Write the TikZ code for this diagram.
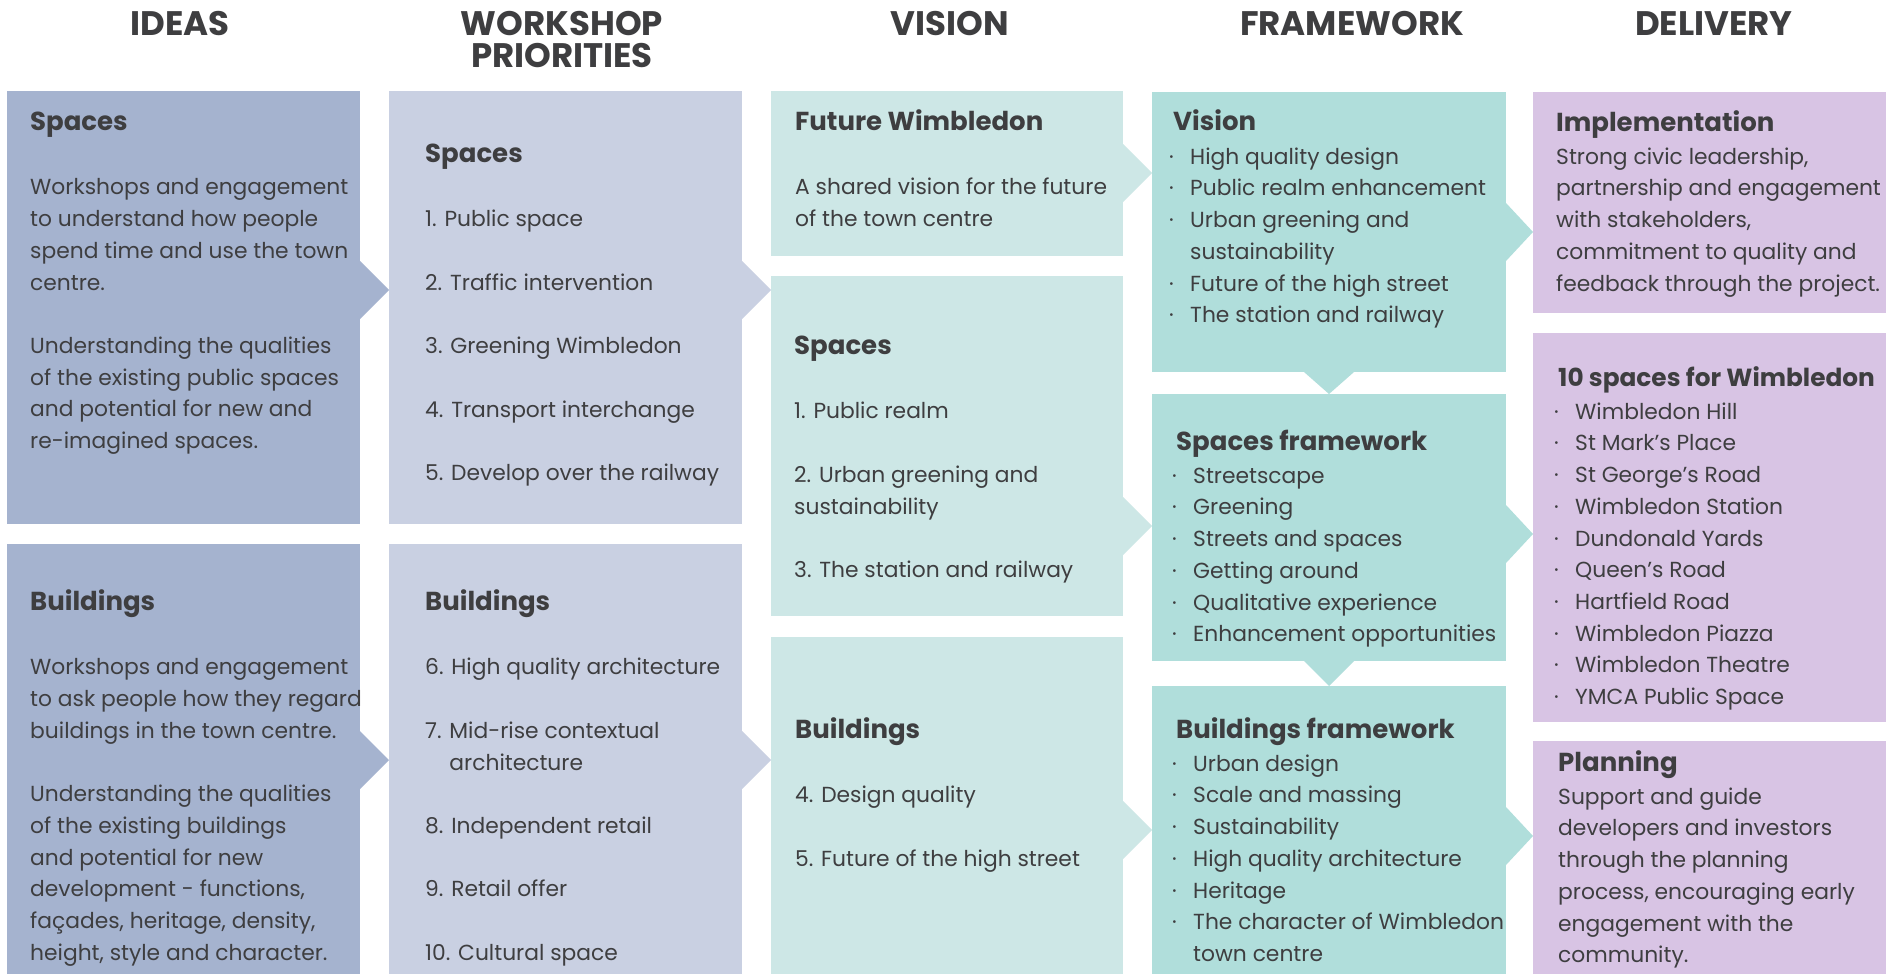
\documentclass[tikz,border=0pt]{standalone}
\usepackage{fontspec}
\setmainfont{Poppins}
\usetikzlibrary{calc}

\definecolor{ideascol}{RGB}{165,179,207}
\definecolor{shopcol}{RGB}{201,208,226}
\definecolor{viscol}{RGB}{205,231,230}
\definecolor{framecol}{RGB}{176,222,219}
\definecolor{delcol}{RGB}{216,196,228}
\definecolor{inkcol}{RGB}{62,62,64}

\newcommand{\ttl}[2][26]{\rule{0pt}{22pt}{\fontsize{#1}{31.7}\selectfont\bfseries #2}}
\newcommand{\bul}{\makebox[17pt][l]{\hspace*{-4pt}·}}
\newcommand{\cont}{\hspace*{17pt}}
% chevron from box #1 to box #2 at height #3
\newcommand{\chev}[4]{\fill[#4] ($(#1.east |- 0,#3)+(0,-29)$) -- (#2.west |- 0,#3) -- ($(#1.east |- 0,#3)+(0,29)$) -- cycle;}
\newcommand{\chevdown}[3]{\fill[#3] ($(#1.south)+(-25,0)$) -- (#2.north) -- ($(#1.south)+(25,0)$) -- cycle;}

\tikzset{
  box/.style={rectangle, inner sep=0, outer sep=0, anchor=north west},
  head/.style={font=\fontsize{34}{32}\selectfont\bfseries, text=inkcol, align=center, anchor=north, inner sep=0},
  body/.style={font=\fontsize{21.8}{31.7}\selectfont, text=inkcol, align=left, anchor=north west, inner sep=0},
}

\begin{document}
\begin{tikzpicture}[x=1pt, y=-1pt]
  \useasboundingbox[fill=white] (0,0) rectangle (1892,974);

  % column headers
  \foreach \n/\x/\t in {1/180/IDEAS, 2/562/{WORKSHOP\\PRIORITIES}, 3/950/VISION, 4/1352/FRAMEWORK, 5/1714/DELIVERY}{
    \node[head] (h\n) at (\x,11) {\rule{0pt}{24pt}\t};
  }

  % boxes
  \foreach \n/\x/\y/\w/\h/\c in {ia/7/91/353/433/ideascol, ib/7/544/353/430/ideascol,
      wa/389/91/353/433/shopcol, wb/389/544/353/430/shopcol,
      va/771/91/352/165/viscol, vb/771/276/352/340/viscol, vc/771/637/352/337/viscol,
      fa/1152/92/354/280/framecol, fb/1152/394/354/267/framecol, fc/1152/686/354/288/framecol,
      da/1533/92/353/221/delcol, db/1533/333/353/389/delcol, dc/1533/741/353/233/delcol}{
    \node[box, fill=\c, minimum width=\w, minimum height=\h] (\n) at (\x,\y) {};
  }

  % chevrons
  \foreach \a/\b/\y/\c in {ia/wa/290/ideascol, ib/wb/760/ideascol, wa/vb/290/shopcol, wb/vc/760/shopcol,
      va/fa/173/viscol, vb/fb/526/viscol, vc/fc/830/viscol,
      fa/da/232/framecol, fb/db/534/framecol, fc/dc/836/framecol}{
    \chev{\a}{\b}{\y}{\c}
  }
  \chevdown{fa}{fb}{framecol}
  \chevdown{fb}{fc}{framecol}

  % ideas
  \node[body] (iat) at (30,108) {\ttl{Spaces}\\[33pt]
    Workshops and engagement\\ to understand how people\\ spend time and use the town\\ centre.\\[31.7pt]
    Understanding the qualities\\ of the existing public spaces\\ and potential for new and\\ re-imagined spaces.};
  \node[body] (ibt) at (30,588) {\ttl{Buildings}\\[33pt]
    Workshops and engagement\\ to ask people how they regard\\ buildings in the town centre.\\[31.7pt]
    Understanding the qualities\\ of the existing buildings\\ and potential for new\\ development - functions,\\
    façades, heritage, density,\\ height, style and character.};

  % workshop priorities
  \node[body] (wat) at (425,140) {\ttl{Spaces}\\[33pt]
    1. Public space\\[31.7pt] 2. Traffic intervention\\[31.7pt] 3. Greening Wimbledon\\[31.7pt]
    4. Transport interchange\\[31.7pt] 5. Develop over the railway};
  \node[body] (wbt) at (425,588) {\ttl{Buildings}\\[33pt]
    6. High quality architecture\\[31.7pt] 7. Mid-rise contextual\\ \phantom{7. }architecture\\[31.7pt]
    8. Independent retail\\[31.7pt] 9. Retail offer\\[31.7pt] 10. Cultural space};

  % vision
  \node[body] (vat) at (795,108) {\ttl{Future Wimbledon}\\[33pt]
    A shared vision for the future\\ of the town centre};
  \node[body] (vbt) at (794,332) {\ttl{Spaces}\\[33pt]
    1. Public realm\\[31.7pt] 2. Urban greening and\\ sustainability\\[31.7pt] 3. The station and railway};
  \node[body] (vct) at (795,716) {\ttl{Buildings}\\[33pt]
    4. Design quality\\[31.7pt] 5. Future of the high street};

  % framework
  \node[body] (fat) at (1173,108) {\ttl{Vision}\\[2.3pt]
    \bul High quality design\\ \bul Public realm enhancement\\ \bul Urban greening and\\ \cont sustainability\\
    \bul Future of the high street\\ \bul The station and railway};
  \node[body] (fbt) at (1176,428) {\ttl{Spaces framework}\\[1.3pt]
    \bul Streetscape\\ \bul Greening\\ \bul Streets and spaces\\ \bul Getting around\\
    \bul Qualitative experience\\ \bul Enhancement opportunities};
  \node[body] (fct) at (1176,716) {\ttl{Buildings framework}\\[1.3pt]
    \bul Urban design\\ \bul Scale and massing\\ \bul Sustainability\\ \bul High quality architecture\\
    \bul Heritage\\ \bul The character of Wimbledon\\ \cont town centre};

  % delivery
  \node[body] (dat) at (1556,109) {\ttl{Implementation}\\[1.3pt]
    Strong civic leadership,\\ partnership and engagement\\ with stakeholders,\\ commitment to quality and\\ feedback through the project.};
  \node[body] (dbt) at (1558,364) {\ttl[24.8]{10 spaces for Wimbledon}\\[1.3pt]
    \bul Wimbledon Hill\\ \bul St Mark’s Place\\ \bul St George’s Road\\ \bul Wimbledon Station\\ \bul Dundonald Yards\\
    \bul Queen’s Road\\ \bul Hartfield Road\\ \bul Wimbledon Piazza\\ \bul Wimbledon Theatre\\ \bul YMCA Public Space};
  \node[body] (dct) at (1558,749) {\ttl{Planning}\\[1.3pt]
    Support and guide\\ developers and investors\\ through the planning\\ process, encouraging early\\ engagement with the\\ community.};
\end{tikzpicture}
\end{document}
